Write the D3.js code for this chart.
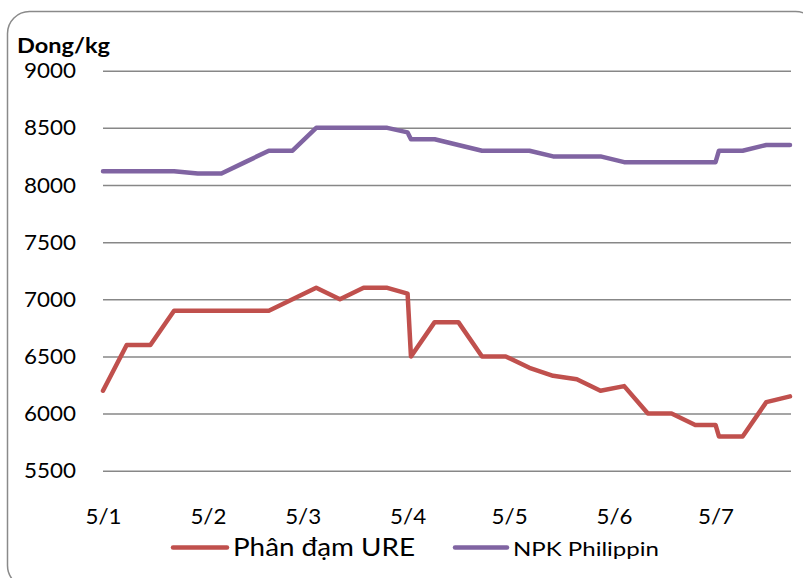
<!DOCTYPE html>
<html>
<head>
<meta charset="utf-8">
<script src="https://cdn.jsdelivr.net/npm/d3@7"></script>
<style>
  html, body { margin: 0; padding: 0; background: #fff; }
  svg { display: block; font-family: Lato, "Open Sans", sans-serif; }
</style>
</head>
<body>
<svg id="chart" width="803" height="578"></svg>
<script>
// ---- data ----
const dates = [
  "2013-01-05","2013-01-12","2013-01-19","2013-01-26","2013-02-02","2013-02-09",
  "2013-02-16","2013-02-23","2013-03-02","2013-03-09","2013-03-16","2013-03-23",
  "2013-03-30","2013-04-05","2013-04-06","2013-04-13","2013-04-20","2013-04-27",
  "2013-05-04","2013-05-11","2013-05-18","2013-05-25","2013-06-01","2013-06-08",
  "2013-06-15","2013-06-22","2013-06-29","2013-07-05","2013-07-06","2013-07-13",
  "2013-07-20","2013-07-27"
];
const ureValues = [
  6200, 6600, 6600, 6900, 6900, 6900,
  6900, 6900, 7000, 7100, 7000, 7100,
  7100, 7050, 6500, 6800, 6800, 6500,
  6500, 6400, 6330, 6300, 6200, 6240,
  6000, 6000, 5900, 5900, 5800, 5800,
  6100, 6150
];
const npkValues = [
  8120, 8120, 8120, 8120, 8100, 8100,
  8200, 8300, 8300, 8500, 8500, 8500,
  8500, 8460, 8400, 8400, 8350, 8300,
  8300, 8300, 8250, 8250, 8250, 8200,
  8200, 8200, 8200, 8200, 8300, 8300,
  8350, 8350
];
const seriesNames = ["Phân đạm URE", "NPK Philippin"];
const seriesColors = ["#C0504D", "#8064A2"];
const yTicks = [5500, 6000, 6500, 7000, 7500, 8000, 8500, 9000];
const xTickDates = ["2013-01-05","2013-02-05","2013-03-05","2013-04-05","2013-05-05","2013-06-05","2013-07-05"];
const xTickLabels = ["5/1","5/2","5/3","5/4","5/5","5/6","5/7"];
const yTitle = "Dong/kg";

// ---- drawing ----
const parse = d3.timeParse("%Y-%m-%d");
const svg = d3.select("#chart");

// outer rounded border
svg.append("rect")
  .attr("x", 7.5).attr("y", 11.5)
  .attr("width", 810).attr("height", 576)
  .attr("rx", 22).attr("ry", 22)
  .attr("fill", "#fff").attr("stroke", "#8a8a8a").attr("stroke-width", 1.5);

const plotL = 103, plotR = 791, plotT = 70.7, plotB = 470.7;

const x = d3.scaleTime()
  .domain([parse(dates[0]), parse(dates[dates.length - 1])])
  .range([plotL, plotR - 1]);
const y = d3.scaleLinear().domain([5500, 9000]).range([plotB, plotT]);

// y axis + gridlines
const yAxis = d3.axisLeft(y).tickValues(yTicks).tickFormat(d3.format("d"))
  .tickSizeInner(-(plotR - plotL)).tickSizeOuter(0).tickPadding(27);
const gy = svg.append("g").attr("transform", `translate(${plotL},0)`).call(yAxis);
gy.select(".domain").remove();
gy.selectAll(".tick line").attr("stroke", "#878787").attr("stroke-width", 1.5);
gy.selectAll(".tick text").attr("font-size", 22).attr("fill", "#000")
  .attr("font-family", "Lato, sans-serif")
  .attr("textLength", 52).attr("lengthAdjust", "spacingAndGlyphs");

// x axis labels
const xAxis = d3.axisBottom(x).tickValues(xTickDates.map(parse))
  .tickFormat((d, i) => xTickLabels[i]).tickSize(0).tickPadding(38);
const gx = svg.append("g").attr("transform", `translate(0,${plotB})`).call(xAxis);
gx.select(".domain").remove();
gx.selectAll(".tick text").attr("font-size", 22).attr("fill", "#000")
  .attr("font-family", "Lato, sans-serif")
  .attr("textLength", 36).attr("lengthAdjust", "spacingAndGlyphs");

// title
svg.append("text").attr("x", 17).attr("y", 53)
  .attr("font-size", 21).attr("font-weight", "bold").attr("fill", "#000")
  .attr("textLength", 93).attr("lengthAdjust", "spacingAndGlyphs")
  .text(yTitle);

// lines
const line = d3.line().x(d => x(d.date)).y(d => y(d.v));
[ureValues, npkValues].forEach((vals, k) => {
  const pts = dates.map((d, i) => ({ date: parse(d), v: vals[i] }));
  svg.append("path").datum(pts)
    .attr("d", line)
    .attr("fill", "none")
    .attr("stroke", seriesColors[k])
    .attr("stroke-width", 4.5)
    .attr("stroke-linejoin", "round")
    .attr("stroke-linecap", "round");
});

// legend
const legend = [
  { x1: 173, x2: 227, tx: 233, fs: 25, w: 182 },
  { x1: 455, x2: 507, tx: 513, fs: 20, w: 146 }
];
legend.forEach((l, k) => {
  svg.append("line").attr("x1", l.x1).attr("x2", l.x2)
    .attr("y1", 547.5).attr("y2", 547.5)
    .attr("stroke", seriesColors[k]).attr("stroke-width", 4.5)
    .attr("stroke-linecap", "round");
  svg.append("text").attr("x", l.tx).attr("y", 556)
    .attr("font-size", l.fs).attr("fill", "#000")
    .attr("textLength", l.w).attr("lengthAdjust", "spacingAndGlyphs")
    .text(seriesNames[k]);
});
</script>
</body>
</html>
